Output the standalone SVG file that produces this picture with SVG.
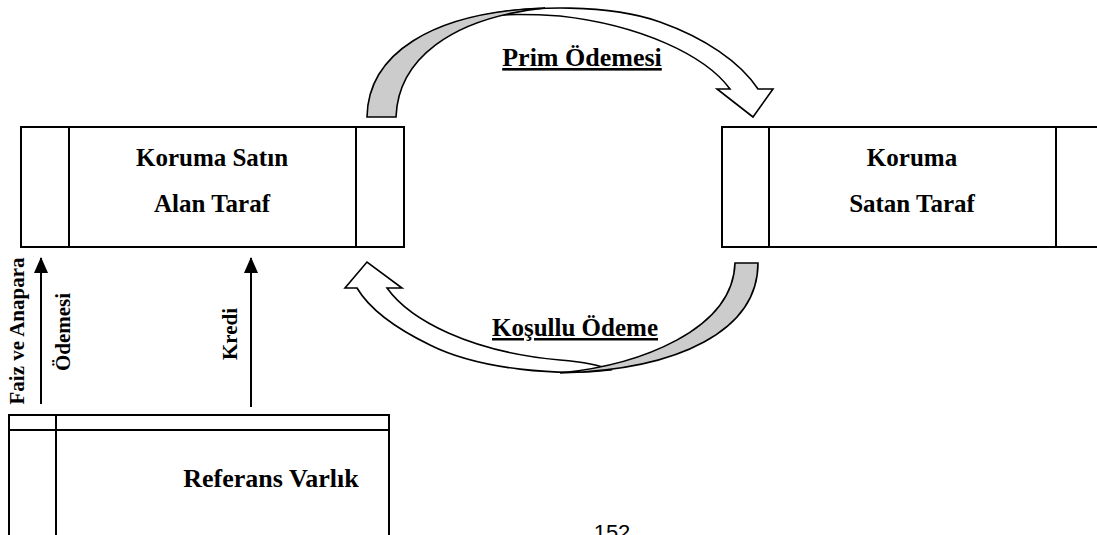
<svg xmlns="http://www.w3.org/2000/svg" width="1097" height="535" viewBox="0 0 1097 535">
<style>
.box{fill:#fff;stroke:#000;stroke-width:2}
.ln{stroke:#000;stroke-width:2;fill:none}
.t{font-family:"Liberation Serif","Times New Roman",serif;font-weight:bold;font-size:25px;fill:#000;text-anchor:middle}
.big{font-size:26px}
.v{font-family:"Liberation Serif","Times New Roman",serif;font-weight:bold;font-size:21px;fill:#000;text-anchor:middle}
.u{text-decoration:underline}
.arrowband{stroke:#000;stroke-width:1.6;stroke-linejoin:miter}
</style>
<defs>
<marker id="ah" markerWidth="16" markerHeight="14" refX="15" refY="7" orient="auto" markerUnits="userSpaceOnUse" viewBox="0 0 16 14">
<path d="M0,0 L16,7 L0,14 z" fill="#000"/>
</marker>
</defs>
<rect width="1097" height="535" fill="#fff"/>

<g id="buyer">
<rect class="box" x="21" y="127" width="383" height="120"/>
<line class="ln" x1="69" y1="127" x2="69" y2="247"/>
<line class="ln" x1="356" y1="127" x2="356" y2="247"/>
<text class="t" x="212" y="166">Koruma Satın</text>
<text class="t" x="212" y="212">Alan Taraf</text>
</g>

<g id="seller">
<rect class="box" x="722" y="127" width="390" height="120"/>
<line class="ln" x1="769" y1="127" x2="769" y2="247"/>
<line class="ln" x1="1056" y1="127" x2="1056" y2="247"/>
<text class="t" x="912" y="166">Koruma</text>
<text class="t" x="912" y="212">Satan Taraf</text>
</g>

<g id="reference">
<rect class="box" x="9" y="415" width="380" height="140"/>
<line class="ln" x1="9" y1="430" x2="389" y2="430"/>
<line class="ln" x1="56" y1="415" x2="56" y2="555"/>
<text class="t big" x="271" y="487">Referans Varlık</text>
</g>

<g id="connectors">
<line class="ln" x1="41" y1="404" x2="41" y2="258" marker-end="url(#ah)"/>
<line class="ln" x1="251" y1="407" x2="251" y2="258" marker-end="url(#ah)"/>
<text class="v" transform="translate(24,331) rotate(-90)">Faiz ve Anapara</text>
<text class="v" transform="translate(70,332) rotate(-90)">Ödemesi</text>
<text class="v" transform="translate(237,334) rotate(-90)">Kredi</text>

<!-- top curved arrow -->
<path class="arrowband" fill="#fff" d="M480,16 C530,5 610,4 660,22 C705,38 740,62 758,89 L773,89 L753,117 L717,89 L730,89 C705,55 640,25 560,16 C530,14 505,14 480,16 Z"/>
<path class="arrowband" fill="#ccc" d="M367,117 C368,55 430,12 545,8 C450,18 398,60 396,117 Z"/>
<text class="t big u" x="582" y="66">Prim Ödemesi</text>

<!-- bottom curved arrow -->
<path class="arrowband" fill="#fff" d="M610,370 C560,376 480,370 430,345 C395,328 370,310 357,288 L345,288 L367,262 L402,288 L387,288 C410,320 470,352 560,360 C585,362 600,365 610,370 Z"/>
<path class="arrowband" fill="#ccc" d="M758,263 C758,330 680,370 560,373 C640,365 733,330 735,263 Z"/>
<text class="t u" x="575" y="336">Koşullu Ödeme</text>
</g>

<text x="612" y="540" style="font-family:'Liberation Sans',Arial,sans-serif;font-size:22px;fill:#000;text-anchor:middle">152</text>
</svg>
